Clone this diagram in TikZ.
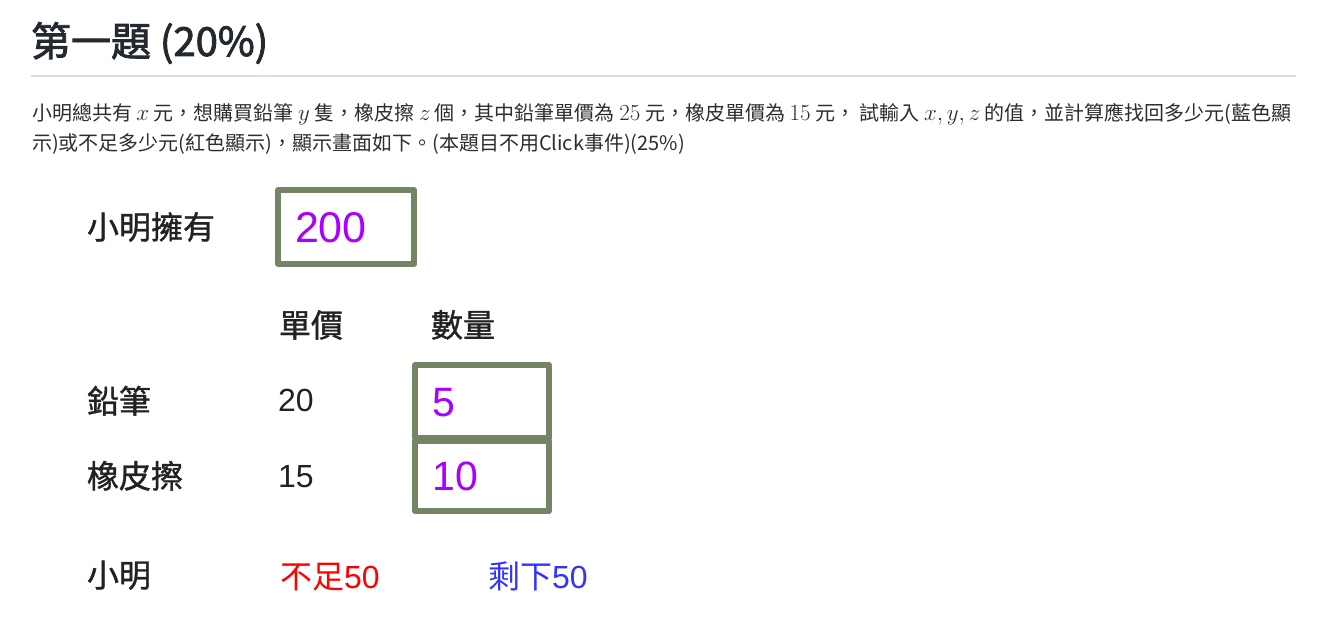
\documentclass[tikz,border=0pt]{standalone}
\usepackage{fix-cm}
\usepackage{fontspec}
\setmainfont{Noto Sans CJK TC}
\newfontfamily\arialf{Liberation Sans}
\newfontfamily\titlef[FakeBold=2.2]{Noto Sans CJK TC}
\newfontfamily\formf[FakeBold=1.2]{Noto Sans CJK TC}
\definecolor{boxgreen}{RGB}{118,132,102}
\definecolor{valviolet}{RGB}{170,0,255}
\definecolor{shortred}{RGB}{255,0,0}
\definecolor{leftblue}{RGB}{51,51,255}
\definecolor{titlecol}{RGB}{36,41,47}
\definecolor{textcol}{RGB}{45,45,45}
\definecolor{labelcol}{RGB}{34,34,34}
\definecolor{rulecol}{RGB}{216,222,228}
\newcommand{\km}[1]{{\fontsize{23}{23}\selectfont$#1$}}
\tikzset{
  base/.style={anchor=base west, inner sep=0pt, outer sep=0pt},
  para/.style={base, text=textcol, font=\fontsize{20}{20}\selectfont},
  lbl/.style={base, text=labelcol, font=\formf\fontsize{32}{32}\selectfont},
  num/.style={base, text=labelcol, font=\arialf\fontsize{32}{32}\selectfont},
  inval/.style={base, text=valviolet, font=\arialf\fontsize{41}{41}\selectfont},
  inbox/.style={draw=boxgreen, line width=6pt, line join=round, inner sep=0pt}
}
\begin{document}
\begin{tikzpicture}[x=1pt,y=-1pt]
\fill[white] (0,0) rectangle (1331,636);
\useasboundingbox (0,0) rectangle (1331,636);
% heading
\node[base, text=titlecol, font=\titlef\fontsize{40}{40}\selectfont] (title) at (31,56) {第一題 (20\%)};
\coordinate (ruleL) at (31,76);
\coordinate (ruleR) at (1296,76);
\draw[rulecol, line width=1.2pt] (ruleL) -- (ruleR);
% question text
\node[para] (q1) at (32,120.5) {小明總共有 \km{x} 元，想購買鉛筆 \km{y} 隻，橡皮擦 \km{z} 個，其中鉛筆單價為 \km{25} 元，橡皮單價為 \km{15} 元， 試輸入 \km{x, y, z} 的值，並計算應找回多少元(藍色顯};
\node[para] (q2) at (32,150.5) {示)或不足多少元(紅色顯示)，顯示畫面如下。(本題目不用Click事件)(25\%)};
% form
\node[lbl] (own) at (87,239) {小明擁有};
\node[inbox, minimum width=136pt, minimum height=74pt] (box200) at (346,227) {};
\node[inval, font=\arialf\fontsize{43}{43}\selectfont] (v200) at (295,243) {200};
\node[lbl] (price) at (279,337) {單價};
\node[lbl] (qty) at (431,337) {數量};
\node[lbl] (pencil) at (87,413) {鉛筆};
\node[num] (p20) at (278,411) {20};
\node[lbl] (eraser) at (87,488) {橡皮擦};
\node[num] (p15) at (278,487) {15};
\node[inbox, minimum width=134pt, minimum height=73pt] (boxpen) at (482,401.5) {};
\node[inbox, minimum width=134pt, minimum height=70pt] (boxera) at (482,476) {};
\node[inval] (v5) at (432.5,416) {5};
\node[inval] (v10) at (432.5,490) {10};
\node[lbl] (ming) at (87,587) {小明};
\node[base, text=shortred, font=\fontsize{32}{32}\selectfont] (short) at (280,588) {不足{\arialf 50}};
\node[base, text=leftblue, font=\fontsize{32}{32}\selectfont] (left) at (488,588) {剩下{\arialf 50}};
\end{tikzpicture}
\end{document}
